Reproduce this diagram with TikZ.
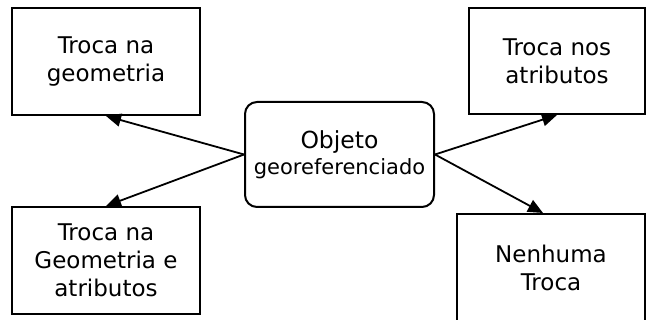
\documentclass[tikz,border=0pt]{standalone}
\usepackage{fontspec}
\setmainfont{DejaVu Sans}
\usepackage{tikz}
\usetikzlibrary{arrows.meta,positioning}

\tikzset{
  caixa/.style={draw, line width=2pt, fill=white, align=center, inner sep=0pt,
    minimum width=188pt, minimum height=107pt,
    font=\fontsize{23}{28}\selectfont},
  seta/.style={line width=1.8pt, -{Triangle[length=15pt,width=13pt]}}
}

\begin{document}
\begin{tikzpicture}[x=1pt,y=-1pt]
	\useasboundingbox (0,0) rectangle (646,320);
	\node[caixa, rounded corners=12pt, minimum width=189pt, minimum height=105pt] (objeto) at (339.5,154.5)
	  {{\fontsize{23.5}{28}\selectfont Objeto}\\[-2pt]{\fontsize{21}{25}\selectfont georeferenciado}};
	\node[caixa] (geometria) at (106,61.5) {Troca na\\geometria};
	\node[caixa, minimum width=176pt, minimum height=106pt] (atributos) at (557,61) {Troca nos\\atributos};
	\node[caixa] (ambos) at (106,260.5) {Troca na\\Geometria e\\atributos};
	\node[caixa, minimum height=108pt] (nenhuma) at (551,268) {Nenhuma\\Troca};
	\draw[seta] (objeto.west) -- (geometria.south);
	\draw[seta] (objeto.west) -- (ambos.north);
	\draw[seta] (objeto.east) -- (atributos.south);
	\draw[seta] (objeto.east) -- ([xshift=-8pt]nenhuma.north);
\end{tikzpicture}
\end{document}
